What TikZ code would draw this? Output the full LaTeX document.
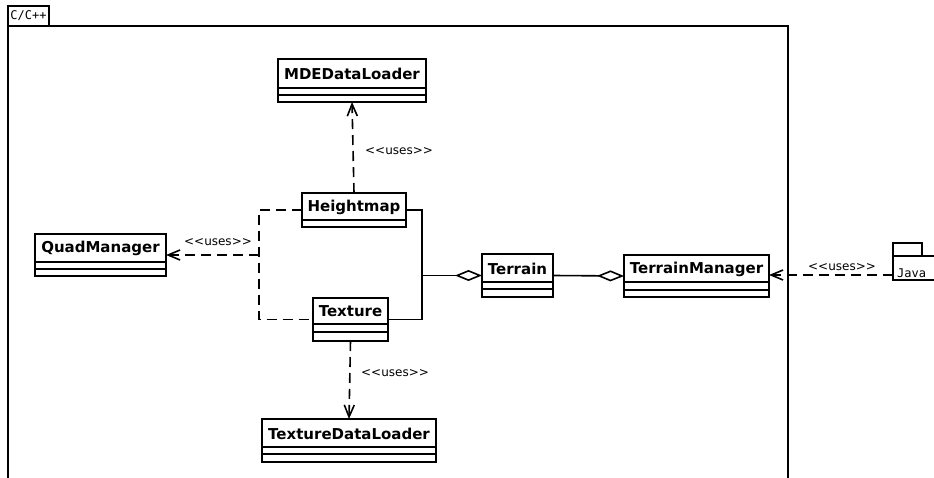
\documentclass[tikz,border=0pt]{standalone}
\usepackage{fontspec}
\setmainfont{DejaVu Sans}
\setmonofont{DejaVu Sans Mono}
\usetikzlibrary{arrows.meta,calc}
\newcommand\umlclass[8]{%
  \node[classbox, minimum width={(#4-#2)*1pt}, minimum height={(#5-#3)*1pt}] (#1) at ({(#2+#4)/2},{(#3+#5)/2}) {};
  \node[classname] (#1-t) at ({(#2+#4)/2},{(#3+#6)/2+0.5}) {#8};
  \draw[boxline] (#2,#6) -- (#4,#6);
  \draw[boxline] (#2,#7) -- (#4,#7);
}
\newcommand\usestext{<\kern0pt<uses>\kern0pt>}
\begin{document}
\begin{tikzpicture}[x=1pt,y=-1pt,
  classbox/.style={draw, line width=1.8pt, fill=white, inner sep=0pt, outer sep=0pt},
  boxline/.style={line width=1.8pt},
  classname/.style={font=\bfseries\fontsize{15}{17}\selectfont, inner sep=0pt},
  pkg/.style={draw, line width=1.5pt, fill=white, inner sep=0pt, outer sep=0pt},
  pkgtext/.style={font=\ttfamily\fontsize{12}{14}\selectfont, inner sep=0pt},
  conn/.style={line width=1.6pt},
  usesline/.style={line width=1.6pt, dash pattern=on 10pt off 6pt},
  usesarrow/.style={usesline, -{Straight Barb[length=12pt,width=10pt,line width=1.6pt]}},
  aggr/.style={conn, -{Diamond[open,length=27pt,width=11pt,line width=1.6pt]}},
  lbl/.style={font=\fontsize{12}{14}\selectfont, inner sep=0pt}
]
\useasboundingbox (0,0) rectangle (934,478);
\clip (0,0) rectangle (934,478);
\fill[white] (0,0) rectangle (934,478);

% C/C++ package
\draw[line width=1.5pt] (8,490) -- (8,26) -- (788,26) -- (788,490);
\node[pkg, minimum width=41pt, minimum height=20pt] (cpp-tab) at (28.5,16) {};
\node[pkgtext] (cpp-t) at (cpp-tab.center) {C/C++};

% Java package
\node[pkg, minimum width=29pt, minimum height=13pt] (java-tab) at (907.5,249.5) {};
\node[pkg, minimum width=50pt, minimum height=24pt, anchor=north west] (java) at (893,256) {};
\node[pkgtext, anchor=west] (java-t) at (897,273) {Java};
\coordinate (javain) at (893,275);

% classes
\umlclass{mde}{278}{59}{426}{102}{88}{95}{MDEDataLoader}
\umlclass{hm}{302}{193}{406}{227}{220}{220}{Heightmap}
\umlclass{qm}{35}{234}{166}{276}{262}{269}{QuadManager}
\umlclass{tx}{313}{298}{388}{341}{324}{332}{Texture}
\umlclass{tdl}{262}{419}{436}{462}{447}{454}{TextureDataLoader}
\umlclass{ter}{482}{254}{553}{297}{282}{289}{Terrain}
\umlclass{tm}{624}{255}{769}{297}{282}{290}{TerrainManager}

% aggregation to Terrain
\coordinate (jr1) at (422,210);
\coordinate (jr2) at (422,319.5);
\coordinate (jr) at (422,275.5);
\draw[conn] (hm.east) -- (jr1) -- (jr2) -- (tx.east);
\draw[aggr] (jr) -- (ter.west);
\draw[aggr] (ter.east) -- (tm.west);

% uses: Heightmap -> MDEDataLoader
\draw[usesarrow] (hm.north) -- (mde.south);
\node[lbl] (l1) at (399,151) {\usestext};

% uses: Texture -> TextureDataLoader
\draw[usesarrow] (tx.south) -- (tdl.north);
\node[lbl] (l2) at (395,373) {\usestext};

% uses: Heightmap/Texture -> QuadManager
\coordinate (jl1) at (259,210);
\coordinate (jl2) at (259,319.5);
\coordinate (jl) at (259,255);
\draw[usesline] (hm.west) -- (jl1) -- (jl2) -- (tx.west);
\draw[usesarrow] (jl) -- (qm.east);
\node[lbl] (l3) at (218,242) {\usestext};

% uses: Java -> TerrainManager
\draw[usesarrow] (javain) -- (tm.east |- javain);
\node[lbl] (l4) at (842,267) {\usestext};
\end{tikzpicture}
\end{document}
